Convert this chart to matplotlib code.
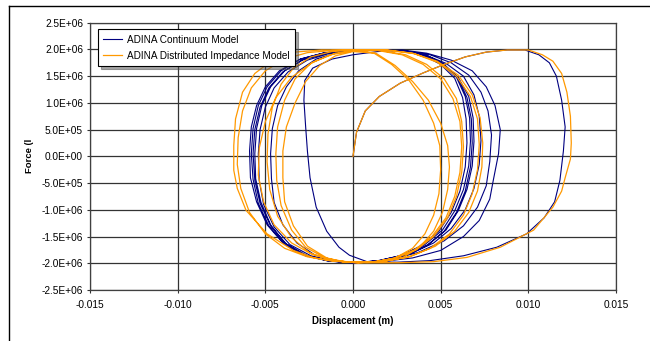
import numpy as np
import matplotlib
matplotlib.use("Agg")
import matplotlib.pyplot as plt
from matplotlib.lines import Line2D
from matplotlib.ticker import FuncFormatter, MultipleLocator

plt.rcParams['font.family'] = ['Liberation Sans', 'DejaVu Sans']

# ---- data: displacement in mm, force in MN ----
# ADINA Continuum Model, traced half-cycle by half-cycle
cont_init_x = [0.0, 0.2, 0.7, 1.5, 2.7, 4.0, 5.2, 6.4, 7.6, 8.8, 9.8]
cont_init_f = [0.0, 0.45, 0.85, 1.12, 1.37, 1.56, 1.72, 1.86, 1.95, 1.99, 1.99]
cont_r1_x = [10.6, 11.2, 11.6, 11.9, 12.1, 12.0, 11.8, 11.5, 10.9, 9.9, 8.2, 6.3, 4.4, 2.5, 0.8]
cont_r1_f = [1.90, 1.75, 1.50, 1.05, 0.55, 0.10, -0.45, -0.85, -1.15, -1.45, -1.70, -1.86, -1.95, -1.98, -1.97]
cont_l1_x = [-0.2, -0.8, -1.5, -2.1, -2.45, -2.6, -2.7, -2.8, -2.75, -2.3, -1.2, 0.0, 1.4]
cont_l1_f = [-1.85, -1.70, -1.40, -0.95, -0.40, 0.10, 0.55, 1.05, 1.42, 1.65, 1.82, 1.90, 1.96]
cont_r2_x = [2.8, 4.2, 5.6, 6.8, 7.6, 8.1, 8.4, 8.3, 8.0, 7.8, 7.2, 6.3, 5.0, 3.4, 1.6, 0.0]
cont_r2_f = [1.99, 1.93, 1.80, 1.60, 1.30, 0.95, 0.50, 0.05, -0.45, -0.80, -1.20, -1.50, -1.76, -1.90, -1.97, -1.99]
cont_l2_x = [-1.4, -2.8, -4.0, -4.9, -5.5, -5.85, -5.9, -5.8, -5.5, -5.0, -4.2, -3.0, -1.6, 0.0, 1.5]
cont_l2_f = [-1.96, -1.85, -1.62, -1.28, -0.85, -0.40, 0.10, 0.55, 0.95, 1.30, 1.60, 1.82, 1.94, 1.98, 1.99]
cont_r3_x = [3.0, 4.4, 5.6, 6.6, 7.3, 7.7, 7.9, 7.8, 7.6, 7.1, 6.3, 5.2, 3.7, 2.0, 0.3]
cont_r3_f = [1.97, 1.90, 1.75, 1.52, 1.20, 0.85, 0.40, -0.10, -0.55, -0.95, -1.30, -1.58, -1.80, -1.94, -1.99]
cont_l3_x = [-1.2, -2.6, -3.8, -4.7, -5.3, -5.6, -5.7, -5.6, -5.3, -4.8, -4.0, -2.9, -1.5, 0.0, 1.4]
cont_l3_f = [-1.96, -1.86, -1.64, -1.30, -0.88, -0.45, 0.05, 0.50, 0.92, 1.28, 1.58, 1.80, 1.93, 1.98, 1.99]
cont_r4_x = [2.8, 4.1, 5.3, 6.3, 6.9, 7.2, 7.3, 7.2, 6.9, 6.4, 5.6, 4.6, 3.3, 1.8, 0.2]
cont_r4_f = [1.97, 1.90, 1.74, 1.50, 1.15, 0.75, 0.30, -0.15, -0.60, -1.00, -1.35, -1.62, -1.82, -1.95, -1.99]
cont_l4_x = [-1.1, -2.4, -3.6, -4.5, -5.1, -5.35, -5.4, -5.3, -5.0, -4.5, -3.7, -2.6, -1.3, 0.1, 1.5]
cont_l4_f = [-1.96, -1.86, -1.65, -1.32, -0.90, -0.45, 0.05, 0.50, 0.92, 1.28, 1.58, 1.80, 1.93, 1.98, 1.99]
cont_r5_x = [2.8, 4.0, 5.1, 6.0, 6.6, 6.85, 6.9, 6.8, 6.5, 6.0, 5.3, 4.3, 3.0, 1.6, 0.1]
cont_r5_f = [1.97, 1.90, 1.74, 1.48, 1.12, 0.72, 0.28, -0.18, -0.62, -1.02, -1.38, -1.65, -1.84, -1.95, -1.99]
cont_l5_x = [-1.3, -2.7, -3.9, -4.8, -5.4, -5.7, -5.8, -5.7, -5.4, -4.9, -4.1, -3.0, -1.6, 0.0, 1.5]
cont_l5_f = [-1.96, -1.86, -1.64, -1.30, -0.88, -0.43, 0.05, 0.52, 0.95, 1.30, 1.60, 1.82, 1.94, 1.98, 1.99]
cont_r6_x = [2.7, 3.9, 5.0, 5.9, 6.4, 6.65, 6.7, 6.6, 6.3, 5.8, 5.1, 4.1, 2.9, 1.5, 0.0]
cont_r6_f = [1.97, 1.90, 1.74, 1.48, 1.12, 0.72, 0.28, -0.18, -0.62, -1.02, -1.38, -1.65, -1.84, -1.95, -1.99]
cont_l6_x = [-1.0, -2.2, -3.2, -4.0, -4.5, -4.65, -4.7, -4.6, -4.3, -3.8, -3.1, -2.1, -0.9, 0.4, 1.7]
cont_l6_f = [-1.95, -1.84, -1.62, -1.28, -0.86, -0.42, 0.05, 0.52, 0.95, 1.30, 1.60, 1.82, 1.94, 1.98, 1.99]
cont_r7_x = [2.9, 4.0, 5.0, 5.8, 6.25, 6.45, 6.5, 6.4, 6.1, 5.6, 4.9, 3.9, 2.7, 1.3, -0.2]
cont_r7_f = [1.97, 1.89, 1.72, 1.46, 1.10, 0.70, 0.25, -0.20, -0.65, -1.05, -1.40, -1.67, -1.86, -1.96, -1.99]
cont_l7_x = [-1.5, -2.8, -3.9, -4.7, -5.25, -5.55, -5.6, -5.5, -5.2, -4.7, -3.9, -2.8, -1.4, 0.1, 1.6]
cont_l7_f = [-1.95, -1.84, -1.62, -1.28, -0.86, -0.42, 0.05, 0.52, 0.95, 1.30, 1.60, 1.82, 1.94, 1.98, 1.99]
cont_r8_x = [3.0, 4.2, 5.2, 6.0, 6.5, 6.75, 6.8, 6.7, 6.4, 5.9, 5.2, 4.2, 3.0, 1.6, 0.0]
cont_r8_f = [1.97, 1.89, 1.72, 1.46, 1.10, 0.70, 0.25, -0.20, -0.65, -1.05, -1.40, -1.67, -1.86, -1.96, -1.99]

# ADINA Distributed Impedance Model
dist_init_x = [0.0, 0.2, 0.7, 1.5, 2.7, 4.0, 5.2, 6.4, 7.6, 8.8, 10.0]
dist_init_f = [0.0, 0.45, 0.85, 1.12, 1.37, 1.56, 1.72, 1.86, 1.95, 1.99, 1.99]
dist_r1_x = [10.8, 11.4, 11.9, 12.2, 12.4, 12.45, 12.4, 12.1, 11.9, 11.4, 10.3, 8.4, 6.5, 4.6, 2.6, 0.8]
dist_r1_f = [1.90, 1.78, 1.55, 1.20, 0.75, 0.25, -0.05, -0.40, -0.65, -0.95, -1.38, -1.70, -1.89, -1.97, -1.99, -1.99]
dist_l1_x = [-1.0, -2.2, -3.4, -4.9, -6.1, -6.6, -6.8, -6.8, -6.7, -6.3, -5.6, -4.6, -3.3, -1.8, 0.0]
dist_l1_f = [-1.96, -1.90, -1.76, -1.45, -1.01, -0.60, -0.26, 0.20, 0.70, 1.20, 1.55, 1.80, 1.95, 1.99, 1.99]
dist_r2_x = [1.8, 3.4, 4.8, 6.0, 6.8, 7.25, 7.4, 7.35, 7.1, 6.6, 5.8, 4.7, 3.3, 1.8, 0.3]
dist_r2_f = [1.99, 1.93, 1.78, 1.52, 1.15, 0.72, 0.25, -0.20, -0.65, -1.05, -1.40, -1.68, -1.87, -1.96, -1.99]
dist_l2_x = [-1.2, -2.6, -3.9, -5.0, -5.9, -6.4, -6.6, -6.55, -6.3, -5.8, -5.0, -3.9, -2.6, -1.2, 0.3]
dist_l2_f = [-1.96, -1.88, -1.72, -1.45, -1.05, -0.60, -0.15, 0.35, 0.85, 1.28, 1.60, 1.82, 1.94, 1.98, 1.99]
dist_r3_x = [2.0, 3.5, 4.8, 5.9, 6.7, 7.1, 7.2, 7.1, 6.8, 6.3, 5.5, 4.4, 3.1, 1.6, 0.1]
dist_r3_f = [1.99, 1.92, 1.76, 1.50, 1.12, 0.70, 0.22, -0.25, -0.70, -1.10, -1.45, -1.72, -1.89, -1.97, -1.99]
dist_l3_x = [-1.3, -2.5, -3.5, -4.3, -4.75, -4.9, -4.85, -4.6, -4.1, -3.4, -2.4, -1.2, 0.2]
dist_l3_f = [-1.94, -1.80, -1.52, -1.12, -0.62, -0.10, 0.42, 0.92, 1.35, 1.65, 1.86, 1.96, 1.99]
dist_r4_x = [1.6, 3.0, 4.2, 5.2, 5.9, 6.2, 6.3, 6.2, 5.9, 5.4, 4.6, 3.6, 2.4, 1.1]
dist_r4_f = [1.98, 1.90, 1.72, 1.45, 1.08, 0.65, 0.18, -0.30, -0.75, -1.15, -1.50, -1.75, -1.91, -1.98]
dist_l4_x = [-0.3, -1.6, -2.7, -3.5, -4.1, -4.35, -4.4, -4.3, -3.9, -3.3, -2.4, -1.3, 0.0]
dist_l4_f = [-1.98, -1.90, -1.70, -1.38, -0.92, -0.45, 0.05, 0.55, 1.05, 1.45, 1.74, 1.90, 1.97]
dist_r5_x = [1.4, 2.8, 4.0, 5.0, 5.7, 6.1, 6.2, 6.1, 5.8, 5.3, 4.5, 3.5, 2.3, 1.0]
dist_r5_f = [1.98, 1.90, 1.72, 1.45, 1.08, 0.65, 0.18, -0.30, -0.75, -1.15, -1.50, -1.75, -1.91, -1.98]
dist_l5_x = [-0.5, -1.5, -2.6, -3.4, -3.9, -4.0, -4.0, -3.8, -3.3, -2.7, -1.9, -1.0, 0.0]
dist_l5_f = [-1.98, -1.90, -1.68, -1.30, -0.85, -0.40, 0.10, 0.55, 1.00, 1.40, 1.70, 1.88, 1.96]
dist_r6_x = [1.3, 2.4, 3.4, 4.3, 5.0, 5.4, 5.5, 5.4, 5.1, 4.6, 3.8, 2.8, 1.5]
dist_r6_f = [1.93, 1.70, 1.40, 1.05, 0.62, 0.20, -0.20, -0.62, -1.05, -1.40, -1.70, -1.90, -1.98]
dist_l6_x = [0.3, -1.0, -2.3, -3.5, -4.5, -5.1, -5.4, -5.35, -5.0, -4.4, -3.5, -2.3, -1.0, 0.3]
dist_l6_f = [-1.99, -1.95, -1.84, -1.62, -1.28, -0.85, -0.35, 0.15, 0.65, 1.10, 1.48, 1.76, 1.93, 1.98]
dist_r7_x = [1.2, 2.2, 3.2, 4.0, 4.6, 4.95, 5.0, 4.9, 4.6, 4.1, 3.4, 2.4, 1.2]
dist_r7_f = [1.93, 1.72, 1.42, 1.05, 0.62, 0.20, -0.25, -0.70, -1.10, -1.45, -1.72, -1.90, -1.98]

labels = ["ADINA Continuum Model", "ADINA Distributed Impedance Model"]
x_ticks = [-0.015, -0.010, -0.005, 0.000, 0.005, 0.010, 0.015]

cont_x = (cont_init_x + cont_r1_x + cont_l1_x + cont_r2_x + cont_l2_x + cont_r3_x + cont_l3_x
          + cont_r4_x + cont_l4_x + cont_r5_x + cont_l5_x + cont_r6_x + cont_l6_x + cont_r7_x
          + cont_l7_x + cont_r8_x)
cont_f = (cont_init_f + cont_r1_f + cont_l1_f + cont_r2_f + cont_l2_f + cont_r3_f + cont_l3_f
          + cont_r4_f + cont_l4_f + cont_r5_f + cont_l5_f + cont_r6_f + cont_l6_f + cont_r7_f
          + cont_l7_f + cont_r8_f)
dist_x = (dist_init_x + dist_r1_x + dist_l1_x + dist_r2_x + dist_l2_x + dist_r3_x + dist_l3_x
          + dist_r4_x + dist_l4_x + dist_r5_x + dist_l5_x + dist_r6_x + dist_l6_x + dist_r7_x)
dist_f = (dist_init_f + dist_r1_f + dist_l1_f + dist_r2_f + dist_l2_f + dist_r3_f + dist_l3_f
          + dist_r4_f + dist_l4_f + dist_r5_f + dist_l5_f + dist_r6_f + dist_l6_f + dist_r7_f)

# units: mm -> m, MN -> N
cont_x = np.array(cont_x) / 1000.0
cont_f = np.array(cont_f) * 1e6
dist_x = np.array(dist_x) / 1000.0
dist_f = np.array(dist_f) * 1e6

W, H = 650, 341
fig = plt.figure(figsize=(W / 100, H / 100), dpi=100)
ax = fig.add_axes([90 / W, 1 - 290 / H, (616 - 90) / W, (290 - 22.7) / H])

ax.plot(cont_x, cont_f, color="#000080", lw=0.8, label=labels[0])
ax.plot(dist_x, dist_f, color="#FF9900", lw=0.9, label=labels[1])

ax.set_xlim(-0.015, 0.015)
ax.set_ylim(-2.5e6, 2.5e6)
ax.set_xticks(x_ticks)
ax.yaxis.set_major_locator(MultipleLocator(0.5e6))
ax.xaxis.set_major_formatter(FuncFormatter(lambda v, p: "%.3f" % v))
ax.yaxis.set_major_formatter(FuncFormatter(lambda v, p: "%.1E" % v))
ax.grid(True, color="#333333", lw=0.9)
ax.set_axisbelow(True)
ax.tick_params(labelsize=7.3, length=2.5, width=0.8, direction="out", color="#333333")
ax.tick_params(axis="x", pad=4.5)
ax.tick_params(axis="y", pad=2.5)
for s in ax.spines.values():
    s.set_color("#404040")
    s.set_linewidth(0.9)

leg = ax.legend(loc="upper left", bbox_to_anchor=(0.0152, 0.976), borderaxespad=0,
                fontsize=7.2, frameon=True, fancybox=False, shadow=True,
                edgecolor="black", framealpha=1, handlelength=1.9, handletextpad=0.45,
                labelspacing=0.6, borderpad=0.55)
leg.get_frame().set_linewidth(0.8)

fig.text(30 / W, 1 - 156 / H, "Force (l", rotation=90, ha="center", va="center",
         fontsize=6.8, fontweight="bold")
fig.text(353 / W, 1 - 321 / H, "Displacement (m)", ha="center", va="center",
         fontsize=7, fontweight="bold")

# outer chart border (top and left edges only are visible)
fig.add_artist(Line2D([9 / W, 1.0], [1 - 5.7 / H, 1 - 5.7 / H], color="black", lw=1.0))
fig.add_artist(Line2D([9 / W, 9 / W], [0.0, 1 - 5.7 / H], color="black", lw=1.0))

fig.savefig("out.png", dpi=100)
